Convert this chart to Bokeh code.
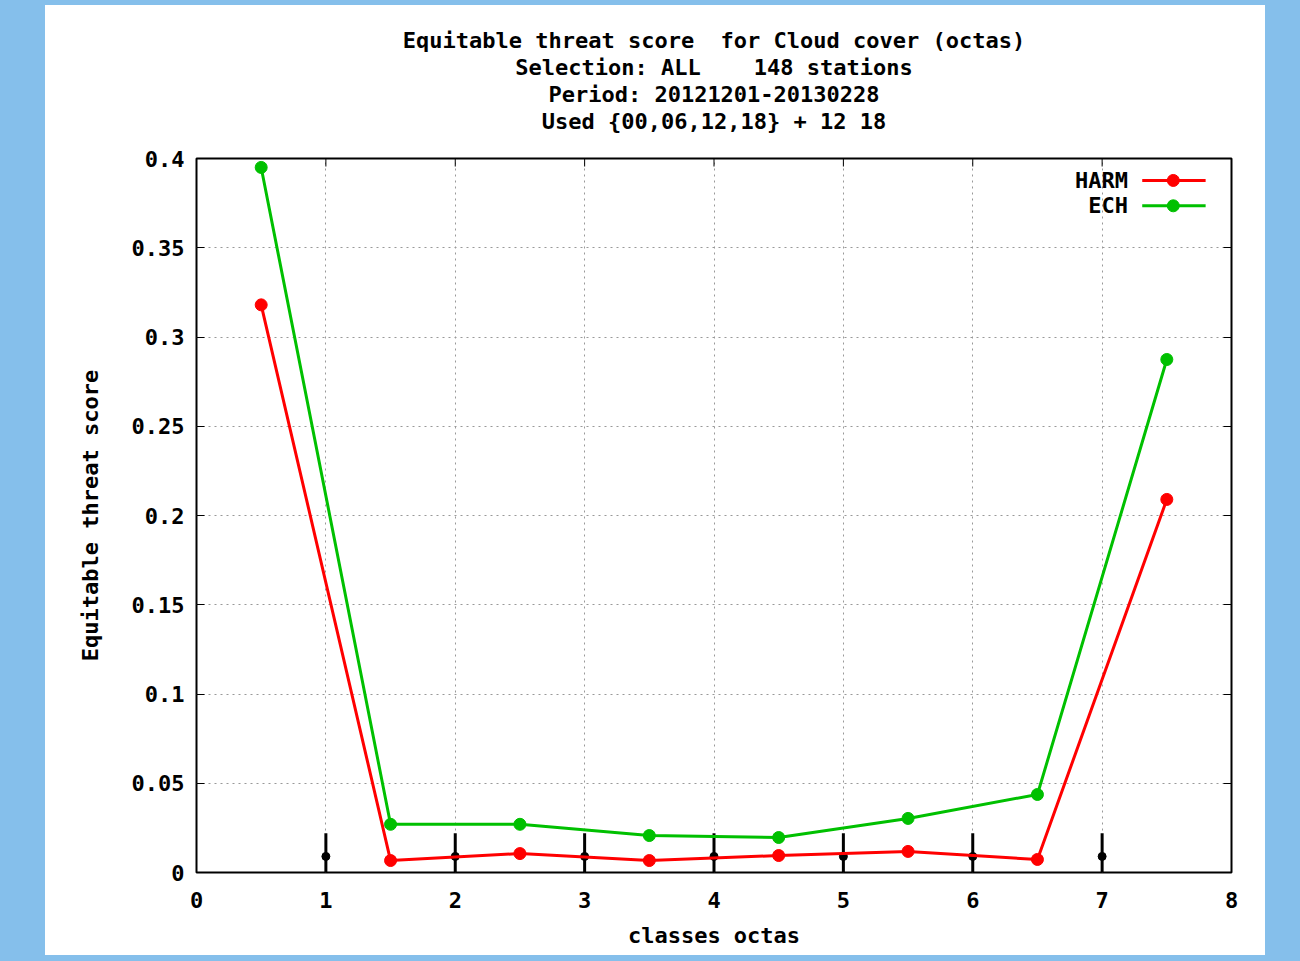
from bokeh.plotting import figure
from bokeh.models import Range1d, FixedTicker, LinearAxis, Title, Spacer
from bokeh.layouts import row, column
from bokeh.core.properties import value
from bokeh.embed import file_html
from bokeh.resources import INLINE

# ---------------- data ----------------
classes = [0.5, 1.5, 2.5, 3.5, 4.5, 5.5, 6.5, 7.5]
harm = [0.318, 0.0067, 0.0106, 0.0067, 0.0095, 0.0118, 0.0073, 0.209]
ech = [0.395, 0.027, 0.027, 0.0207, 0.0196, 0.0303, 0.0437, 0.2874]

mark_x = [1, 2, 3, 4, 5, 6, 7]
mark_low = [0, 0, 0, 0, 0, 0, 0]
mark_high = [0.022, 0.022, 0.022, 0.022, 0.022, 0.022, 0.022]
mark_mid = [0.009, 0.009, 0.009, 0.009, 0.009, 0.009, 0.009]

x_ticks = [0, 1, 2, 3, 4, 5, 6, 7, 8]
y_ticks = [0, 0.05, 0.1, 0.15, 0.2, 0.25, 0.3, 0.35, 0.4]
y_tick_labels = ["0", "0.05", "0.1", "0.15", "0.2", "0.25", "0.3", "0.35", "0.4"]

NB = "\u00a0"
title_lines = [
    "Equitable threat score" + NB + NB + "for Cloud cover (octas)",
    "Selection: ALL" + NB * 4 + "148 stations",
    "Period: 20121201-20130228",
    "Used {00,06,12,18} + 12 18",
]
series_names = ["HARM", "ECH"]
x_label = "classes octas"
y_label = "Equitable threat score"

# ---------------- style ----------------
FONT = "DejaVu Sans Mono"
FS = "22px"
BLUE = "#85BFEB"
RED = "#FF0000"
GREEN = "#00C000"
GRID = "#999999"
TICK_PX = 8

X0, X1 = 0, 8
Y0, Y1 = 0, 0.4

p = figure(width=1220, height=950, output_backend="svg", toolbar_location=None,
           x_range=Range1d(X0, X1), y_range=Range1d(Y0, Y1),
           min_border_left=151, min_border_right=34, min_border_top=153,
           min_border_bottom=83)
p.background_fill_color = "white"
p.border_fill_color = "white"
p.outline_line_color = "black"
p.outline_line_width = 2

# axes
xa = p.xaxis[0]
xa.ticker = FixedTicker(ticks=x_ticks)
ya = p.yaxis[0]
ya.ticker = FixedTicker(ticks=y_ticks)
ya.major_label_overrides = {t: s for t, s in zip(y_ticks, y_tick_labels)}
for ax in (xa, ya):
    ax.axis_line_color = None
    ax.major_tick_in = TICK_PX
    ax.major_tick_out = 0
    ax.major_tick_line_color = "black"
    ax.major_tick_line_width = 1
    ax.minor_tick_line_color = None
    ax.major_label_text_font = FONT
    ax.major_label_text_font_size = FS
    ax.major_label_text_font_style = "bold"
    ax.major_label_text_color = "black"
    ax.axis_label_text_font = FONT
    ax.axis_label_text_font_size = FS
    ax.axis_label_text_font_style = "bold"
    ax.axis_label_text_color = "black"
xa.axis_label = x_label
ya.axis_label = y_label
xa.major_label_standoff = 19
xa.axis_label_standoff = 12
ya.major_label_standoff = 12
ya.axis_label_standoff = 26

# mirror ticks on the right
ra = LinearAxis(ticker=FixedTicker(ticks=y_ticks))
ra.axis_line_color = None
ra.major_tick_in = TICK_PX
ra.major_tick_out = 0
ra.major_tick_line_color = "black"
ra.minor_tick_line_color = None
ra.major_label_text_font_size = "1px"
ra.major_label_text_alpha = 0
ra.major_label_standoff = 0
p.add_layout(ra, "right")

# titles: a blank spacer title next to the frame, then lines 4..1 outward
p.add_layout(Title(text=NB, text_font_size="21px", standoff=0), "above")
for line in reversed(title_lines):
    p.add_layout(Title(text=line, align="center", text_font=FONT, text_font_size=FS,
                       text_font_style="bold", text_color="black", standoff=0), "above")

# grid
for g in (p.xgrid[0], p.ygrid[0]):
    g.grid_line_color = GRID
    g.grid_line_dash = "2 4"
    g.grid_line_width = 1
p.xgrid[0].ticker = FixedTicker(ticks=x_ticks)
p.ygrid[0].ticker = FixedTicker(ticks=y_ticks)

# mirror ticks on the top edge (inward), length ~TICK_PX
frame_h = 950 - 153 - 83
tick_dy = (Y1 - Y0) * TICK_PX / frame_h
p.segment(x0=x_ticks, y0=[Y1] * len(x_ticks), x1=x_ticks, y1=[Y1 - tick_dy] * len(x_ticks),
          line_color="black", line_width=1)

# black marks at integer classes
p.segment(x0=mark_x, y0=mark_low, x1=mark_x, y1=mark_high, line_color="black", line_width=3)
p.scatter(mark_x, mark_mid, size=8, color="black")

# series
p.line(classes, harm, line_color=RED, line_width=3)
p.scatter(classes, harm, size=12, color=RED)
p.line(classes, ech, line_color=GREEN, line_width=3)
p.scatter(classes, ech, size=12, color=GREEN)

# legend (gnuplot style: text then line sample)
leg_text_x = 7.20
leg_x0, leg_x1, leg_xm = 7.31, 7.80, 7.55
leg_y = [0.3877, 0.3735]
p.text(x=[leg_text_x, leg_text_x], y=leg_y, text=series_names, text_align="right",
       text_baseline="middle", text_font=value(FONT), text_font_size=FS,
       text_font_style="bold", text_color="black")
for yy, c in zip(leg_y, [RED, GREEN]):
    p.line([leg_x0, leg_x1], [yy, yy], line_color=c, line_width=3)
    p.scatter([leg_xm], [yy], size=12, color=c)

bg = {"background-color": BLUE}
top = Spacer(width=1300, height=5, styles=bg)
left = Spacer(width=45, height=950, styles=bg)
right = Spacer(width=35, height=950, styles=bg)
bottom = Spacer(width=1300, height=6, styles=bg)
root = column(top, row(left, p, right), bottom)

open("out.html", "w").write(file_html(root, INLINE))
